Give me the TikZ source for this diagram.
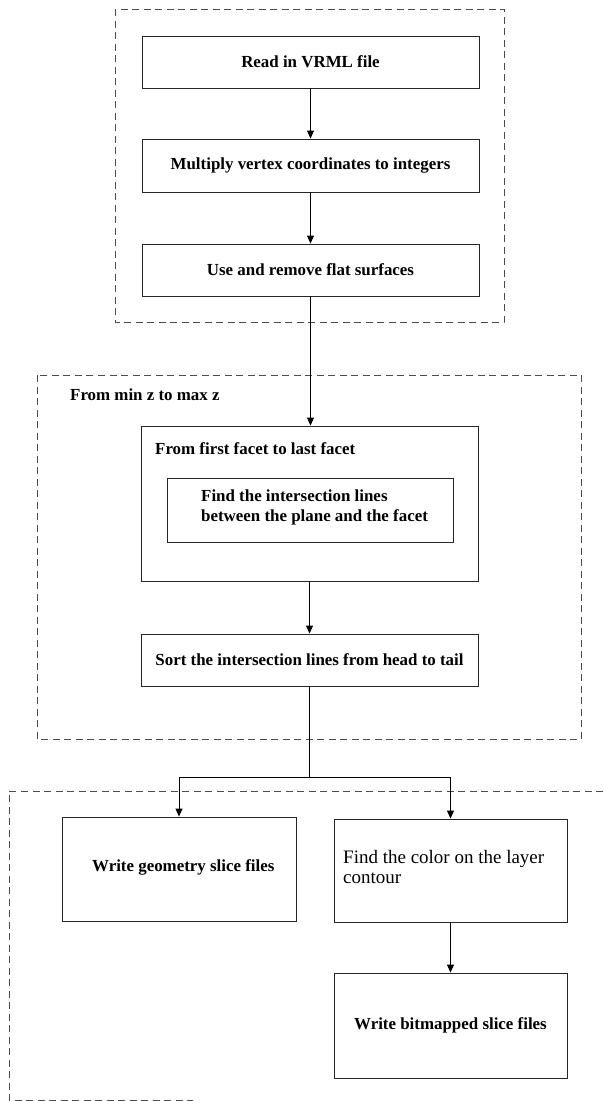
\documentclass[tikz,border=0pt]{standalone}
\usepackage{fontspec}
\setmainfont{Liberation Serif}
\usetikzlibrary{arrows.meta}
\begin{document}
\begin{tikzpicture}[x=1pt,y=-1pt,
  proc/.style={draw=black!85, line width=0.9pt, inner sep=0pt, font=\fontsize{16.9}{20.5}\selectfont\bfseries},
  group/.style={draw=black!70, line width=0.9pt, dash pattern=on 7pt off 4.5pt},
  lbl/.style={inner sep=0pt, anchor=west, align=left, font=\fontsize{16.9}{20.5}\selectfont\bfseries},
  lblreg/.style={inner sep=0pt, anchor=west, align=left, font=\fontsize{19}{20.5}\selectfont},
  flow/.style={draw=black, line width=0.9pt, -{Triangle[length=8pt,width=7pt]}},
  link/.style={draw=black, line width=0.9pt},
]
\useasboundingbox (0,0) rectangle (603,1101);

% group frames
\draw[group] (115,9) rectangle (504,322);
\draw[group] (37,375) rectangle (581,739);
\draw[group] (603,791) -- (9,791) -- (9,1100) -- (193,1100);

% boxes
\node[proc, minimum width=337pt, minimum height=52pt] (A) at (310.5,62) {Read in VRML file};
\node[proc, minimum width=337pt, minimum height=53pt] (B) at (310.5,165.5) {Multiply vertex coordinates to integers};
\node[proc, minimum width=337pt, minimum height=52pt] (C) at (310.5,270) {Use and remove flat surfaces};
\node[proc, minimum width=337pt, minimum height=155pt] (D) at (309.5,503.5) {};
\node[proc, minimum width=286pt, minimum height=64pt] (E) at (310,510) {};
\node[proc, minimum width=337pt, minimum height=52pt] (F) at (309.5,660) {Sort the intersection lines from head to tail};
\node[proc, minimum width=234pt, minimum height=104pt] (G) at (179,869) {};
\node[proc, minimum width=233pt, minimum height=103pt] (H) at (450.5,870.5) {};
\node[proc, minimum width=233pt, minimum height=105pt] (I) at (450.5,1025.5) {Write bitmapped slice files};

% labels
\node[lbl] (Lz) at (70,395) {From min z to max z};
\node[lbl] (Lf) at (155,449) {From first facet to last facet};
\node[lbl] (Le) at (201,507.5) {Find the intersection lines\\between the plane and the facet};
\node[lbl] (Lg) at (92,867) {Write geometry slice files};
\node[lblreg] (Lh) at (343,867) {Find the color on the layer\\contour};

% connectors
\draw[flow] (A.south) -- (B.north);
\draw[flow] (B.south) -- (C.north);
\draw[flow] (C.south) -- (C.south |- D.north);
\draw[flow] (D.south) -- (D.south |- F.north);
\coordinate (split) at (309.5,777);
\draw[link] (F.south) -- (split);
\draw[flow] (split) -| (G.north);
\draw[flow] (split) -| (H.north);
\draw[flow] (H.south) -- (I.north);
\end{tikzpicture}
\end{document}
